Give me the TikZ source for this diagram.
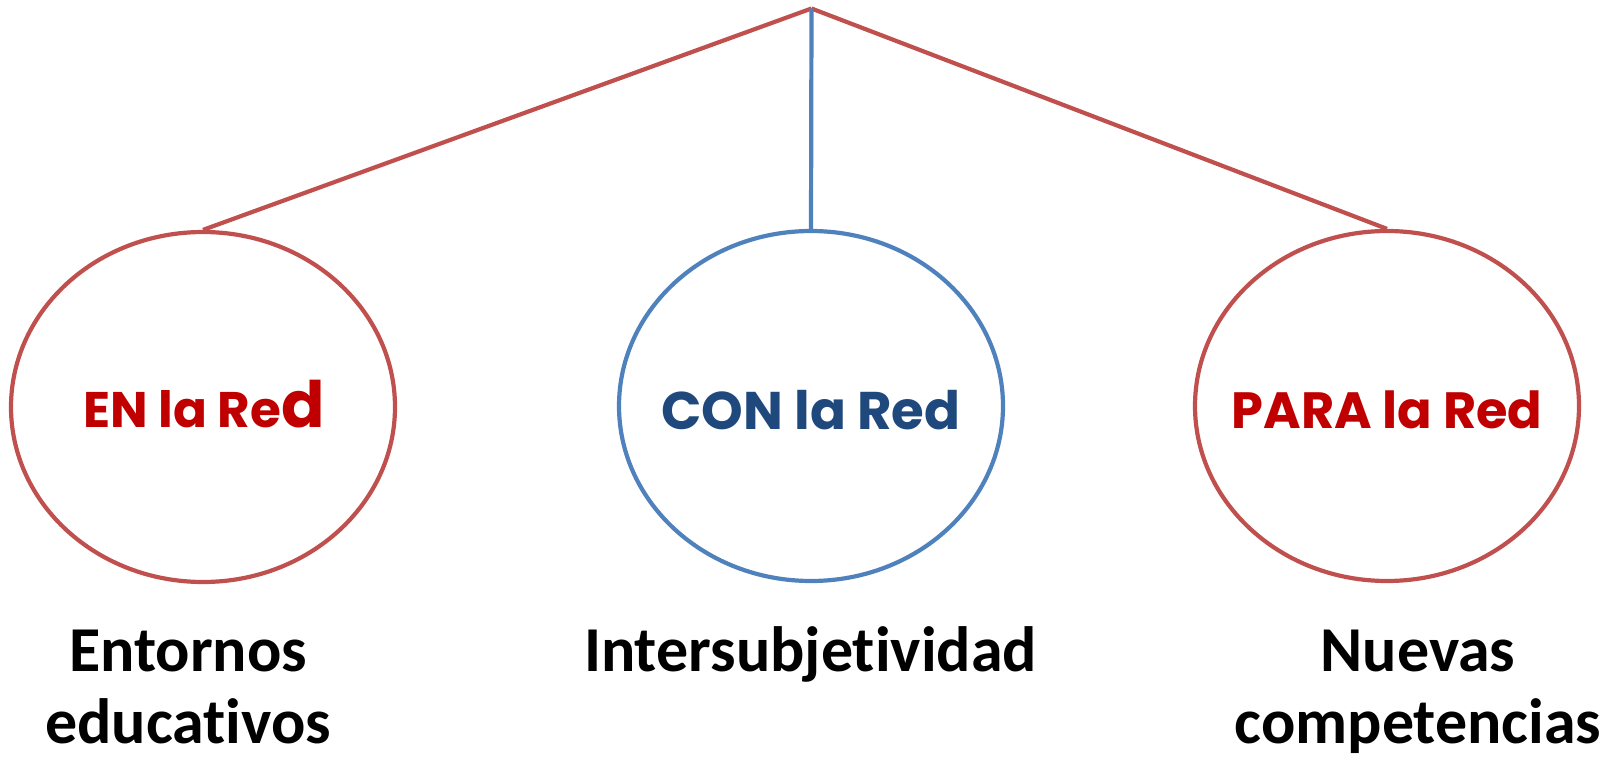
\documentclass[tikz,border=0pt]{standalone}
\usepackage{fontspec}
\usetikzlibrary{shapes.geometric}
\newfontfamily\popfont{Poppins}
\newfontfamily\calfont{Carlito}[Ligatures=NoCommon]
\definecolor{linered}{HTML}{C0504D}
\definecolor{lineblue}{HTML}{4F81BD}
\definecolor{txtred}{HTML}{C00000}
\definecolor{txtblue}{HTML}{1F497D}
\tikzset{
  ell/.style={ellipse, draw, line width=4.2pt, minimum width=384pt, minimum height=350pt, inner sep=0pt},
  conn/.style={line width=4.2pt},
  title/.style={anchor=base, inner sep=0pt, font=\popfont\bfseries},
  sub/.style={anchor=base, inner sep=0pt, align=center, font=\calfont\bfseries\fontsize{64}{72}\selectfont}
}
\begin{document}
\begin{tikzpicture}[x=1pt,y=-1pt]
\useasboundingbox (0,0) rectangle (1619,760);
\coordinate (apex) at (811.5,8.5);
\node[ell, draw=linered] (en) at (203,407) {};
\node[ell, draw=lineblue] (con) at (811,406) {};
\node[ell, draw=linered] (para) at (1387,406) {};
\draw[conn, linered] (apex) -- (en.north);
\draw[conn, linered] (apex) -- (para.north);
\draw[conn, lineblue] (apex) -- (con.north);
\node[title, text=txtred] (ent) at (204,427) {\fontsize{50}{50}\selectfont EN la Re{\fontsize{64}{64}\selectfont d}};
\node[title, text=txtblue] (cont) at (811,429) {\fontsize{53}{53}\selectfont CON la Red};
\node[title, text=txtred] (parat) at (1387,428) {\fontsize{51}{51}\selectfont PARA la Red};
\node[sub] (s1) at (188,743) {Entornos\\educativos};
\node[sub] (s2) at (810.5,671) {Intersubjetividad};
\node[sub] (s3) at (1418,743) {Nuevas\\competencias};
\end{tikzpicture}
\end{document}
